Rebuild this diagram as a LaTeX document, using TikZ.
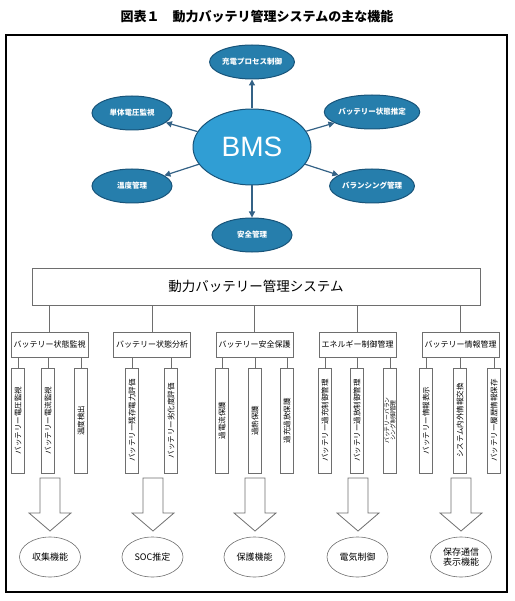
\documentclass[tikz,border=0pt]{standalone}
\usepackage{fontspec}
\setmainfont{Noto Sans CJK JP}
\newfontfamily\latinsans{Liberation Sans}
\usetikzlibrary{arrows.meta,shapes.geometric}
\definecolor{bmsblue}{RGB}{48,158,212}
\definecolor{satblue}{RGB}{38,126,172}
\definecolor{edgeblue}{RGB}{24,84,122}
\definecolor{arrowblue}{RGB}{52,98,134}
\definecolor{framegray}{RGB}{110,110,110}
\tikzstyle{kino} = [ellipse, draw=edgeblue, line width=1pt, fill=satblue, text=white, font=\bfseries\fontsize{7.5}{9}\selectfont, minimum width=80pt, minimum height=34pt, inner sep=0pt]
\tikzstyle{bunrui} = [rectangle, draw=framegray, line width=0.6pt, minimum width=77pt, minimum height=25pt, inner sep=1pt, font=\fontsize{8}{9}\selectfont]
\tikzstyle{koumoku} = [rectangle, draw=framegray, line width=0.9pt, rotate=90, minimum width=105pt, minimum height=12.5pt, inner sep=0pt, align=center, font=\fontsize{7.5}{8}\selectfont]
\tikzstyle{kekka} = [ellipse, draw=framegray, line width=0.6pt, minimum width=61pt, minimum height=40pt, inner sep=0pt, align=center, font=\fontsize{9}{10.5}\selectfont]
\tikzstyle{yajirushi} = [-{Triangle[length=6pt,width=6pt]}, arrowblue, line width=1.2pt]
\begin{document}
\begin{tikzpicture}[x=1pt,y=-1pt]
        \useasboundingbox (0,0) rectangle (514,601);

        \node (title) [font=\bfseries\fontsize{13}{15}\selectfont] at (257,17) {図表１　動力バッテリ管理システムの主な機能};
        \draw[line width=1.3pt] (6,35) rectangle (507,592);

        % BMS and its functions
        \node (bms) [ellipse, draw=edgeblue, line width=1pt, fill=bmsblue, minimum width=118pt, minimum height=76pt, text=white, font=\latinsans\fontsize{28}{30}\selectfont] at (252,147) {BMS};
        \node (juden) [kino] at (252,62) {充電プロセス制御};
        \node (tantai) [kino] at (132,113) {単体電圧監視};
        \node (suitei) [kino, minimum width=82pt] at (372,112) {バッテリー状態推定};
        \node (ondo) [kino] at (132,186) {温度管理};
        \node (balance) [kino] at (372,186) {バランシング管理};
        \node (anzen) [kino] at (252,235) {安全管理};

        \foreach \n in {juden,tantai,suitei,ondo,balance,anzen}
                \draw[yajirushi] (bms) -- (\n);

        % system tree
        \node (kanri) [rectangle, draw=framegray, line width=0.6pt, minimum width=448pt, minimum height=37pt, font=\fontsize{13.5}{15}\selectfont] at (256,286.5) {動力バッテリー管理システム};

        \foreach \x/\name/\txt in {49.5/g1/バッテリー状態監視, 152/g2/バッテリー状態分析, 254.5/g3/バッテリー安全保護, 357.5/g4/エネルギー制御管理, 460.5/g5/バッテリー情報管理} {
                \node (\name) [bunrui] at (\x,344.5) {\txt};
                \draw[framegray, line width=0.6pt] (kanri.south -| \name) -- (\name);
        }

        \foreach \x/\g/\name/\txt in {18/g1/b11/バッテリー電圧監視, 48/g1/b12/バッテリー電流監視, 81/g1/b13/温度検出,
                132/g2/b21/バッテリー残存電力評価, 171/g2/b22/バッテリー劣化度評価,
                222/g3/b31/過電流保護, 255/g3/b32/過熱保護, 287/g3/b33/過充過放保護,
                325/g4/b41/バッテリー過充制御管理, 357/g4/b42/バッテリー過放制御管理,
                426/g5/b51/バッテリー情報表示, 460/g5/b52/システム内外情報交換, 494/g5/b53/バッテリー履歴情報保存} {
                \node (\name) [koumoku] at (\x,420.5) {\txt};
                \draw[framegray, line width=0.6pt] (\g.south -| \name) -- (\name);
        }
        \node (b43) [koumoku, font=\fontsize{5.8}{6.2}\selectfont] at (390,420.5) {バッテリーバラン\\シング制御管理};
        \draw[framegray, line width=0.6pt] (g4.south -| b43) -- (b43);

        % block arrows
        \foreach \x in {50,153,255,358,461}
                \draw[framegray, line width=0.8pt, fill=white] (\x-10,478) -- (\x+10,478) -- (\x+10,513) -- (\x+21,513) -- (\x,531) -- (\x-21,513) -- (\x-10,513) -- cycle;

        \node (shushu) [kekka] at (50,557) {収集機能};
        \node (soc) [kekka] at (152.5,557) {SOC推定};
        \node (hogo) [kekka] at (254.5,557) {保護機能};
        \node (denki) [kekka] at (357.5,557) {電気制御};
        \node (hozon) [kekka] at (461,557) {保存通信\\表示機能};

\end{tikzpicture}
\end{document}
